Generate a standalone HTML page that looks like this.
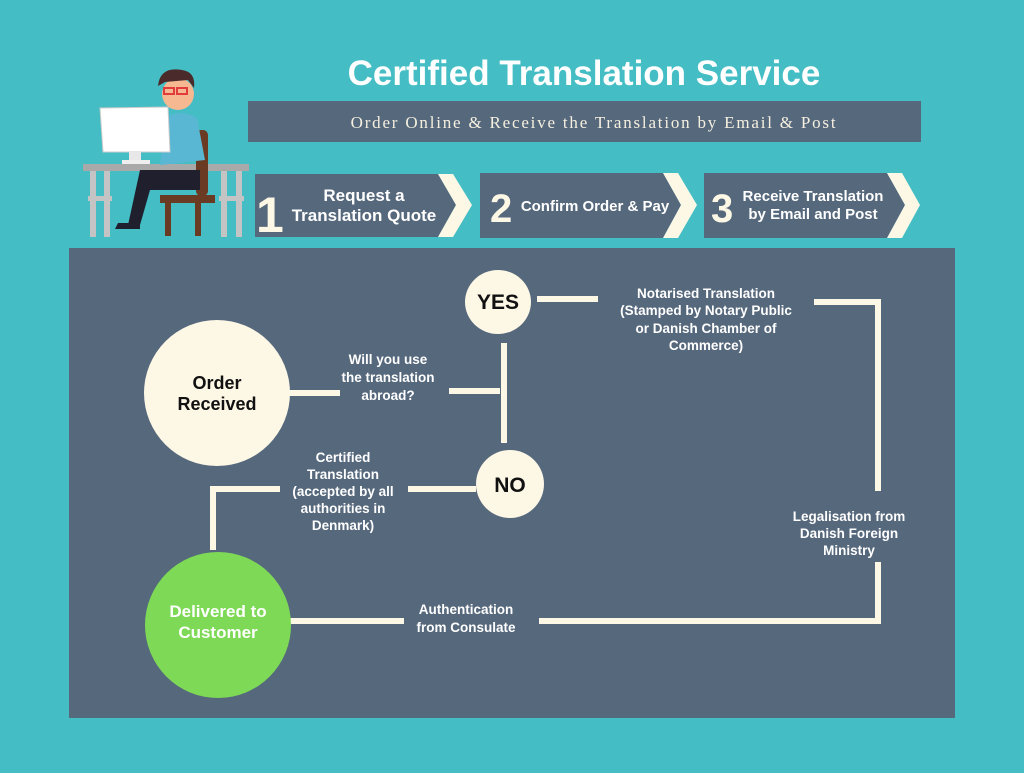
<!DOCTYPE html>
<html><head><meta charset="utf-8"><style>
html,body{margin:0;padding:0}
body{width:1024px;height:768px;background:#44bec4;overflow:hidden;font-family:"Liberation Sans",sans-serif}
svg text{font-family:"Liberation Sans",sans-serif;font-weight:bold}
</style></head><body>
<svg width="1024" height="768" viewBox="0 0 1024 768">
<rect width="1024" height="768" fill="#44bec4"/>
<g>
<rect x="83" y="164" width="166" height="7" fill="#a9a9a9"/>
<rect x="90" y="171" width="6" height="66" fill="#c4c4c4"/>
<rect x="104" y="171" width="6" height="66" fill="#c4c4c4"/>
<rect x="88" y="196" width="24" height="5" fill="#c4c4c4"/>
<rect x="221" y="171" width="6" height="66" fill="#c4c4c4"/>
<rect x="236" y="171" width="6" height="66" fill="#c4c4c4"/>
<rect x="219" y="196" width="25" height="5" fill="#c4c4c4"/>
<rect x="160" y="195" width="55" height="8" fill="#6b3a22"/>
<rect x="165" y="203" width="6" height="33" fill="#6b3a22"/>
<rect x="195" y="203" width="6" height="33" fill="#6b3a22"/>
<rect x="196" y="130" width="12" height="66" rx="5" fill="#6b3a22"/>
<path d="M165 118 Q180 108 197 118 L205 160 L160 165 Z" fill="#5ab7d4"/>
<path d="M140 170 L200 170 L200 190 L150 190 L140 225 L128 225 Z" fill="#1f1f2e"/>
<path d="M118 223 L140 223 L140 229 L115 229 Z" fill="#1f1f2e"/>
<circle cx="178" cy="94" r="16" fill="#f5b891"/>
<path d="M158 86 Q160 66 182 70 Q196 72 194 88 L188 80 L165 82 Z" fill="#4a2a2a"/>
<rect x="164" y="88" width="10" height="6" fill="none" stroke="#e23b3b" stroke-width="2"/>
<rect x="177" y="88" width="10" height="6" fill="none" stroke="#e23b3b" stroke-width="2"/>
<path d="M100 108 L168 107 L170 152 L103 152 Z" fill="#fff" stroke="#ccc"/>
<rect x="129" y="152" width="12" height="10" fill="#e8e8e8"/>
<rect x="122" y="160" width="28" height="4" fill="#eee"/>
</g>
<text x="584" y="85" text-anchor="middle" font-size="35" fill="#fff">Certified Translation Service</text>
<rect x="248" y="101" width="673" height="41" fill="#56687c"/>
<text x="594" y="128" text-anchor="middle" font-size="17" fill="#f5f0e0" style="font-family:'Liberation Serif',serif;font-weight:normal;letter-spacing:1.8px">Order Online &amp; Receive the Translation by Email &amp; Post</text>
<g fill="#56687c">
<polygon points="255,174 438,174 456,205 438,237 255,237"/>
<polygon points="480,173 663,173 681,205 663,238 480,238"/>
<polygon points="704,173 887,173 905,205 887,238 704,238"/>
</g>
<g fill="#fdf7e6">
<polygon points="438,174 453,174 472,205 453,237 438,237 456,205"/>
<polygon points="663,173 678,173 697,205 678,238 663,238 681,205"/>
<polygon points="887,173 902,173 920,205 902,238 887,238 905,205"/>
</g>
<g fill="#fdf7e6" font-size="40" style="font-weight:normal">
<text x="256" y="232" font-size="50">1</text>
<text x="490" y="222">2</text>
<text x="711" y="222">3</text>
</g>
<g fill="#fff" font-size="17" text-anchor="middle">
<text x="364" y="201">Request a</text>
<text x="364" y="221">Translation Quote</text>
<text x="595" y="211" font-size="15">Confirm Order &amp; Pay</text>
<text x="813" y="201" font-size="15">Receive Translation</text>
<text x="813" y="219" font-size="15">by Email and Post</text>
</g>
<rect x="69" y="248" width="886" height="470" fill="#56687c"/>
<g stroke="#fdf7e6" stroke-width="6" fill="none">
<line x1="288" y1="393" x2="340" y2="393"/>
<line x1="449" y1="391" x2="500" y2="391"/>
<line x1="504" y1="343" x2="504" y2="443"/>
<line x1="537" y1="299" x2="598" y2="299"/>
<polyline points="814,302 878,302 878,491"/>
<polyline points="878,562 878,621 539,621"/>
<line x1="290" y1="621" x2="404" y2="621"/>
<line x1="408" y1="489" x2="476" y2="489"/>
<polyline points="280,489 213,489 213,550"/>
</g>
<ellipse cx="217" cy="393" rx="73" ry="73" fill="#fdf7e6"/>
<circle cx="218" cy="625" r="73" fill="#7ed957"/>
<ellipse cx="498" cy="302" rx="33" ry="32" fill="#fdf7e6"/>
<ellipse cx="510" cy="484" rx="34" ry="34" fill="#fdf7e6"/>
<g text-anchor="middle" font-size="18" fill="#111">
<text x="217" y="389">Order</text>
<text x="217" y="410">Received</text>
<text x="498" y="309" font-size="21">YES</text>
<text x="510" y="492" font-size="21">NO</text>
</g>
<g text-anchor="middle" font-size="17" fill="#fff">
<text x="218" y="617">Delivered to</text>
<text x="218" y="638">Customer</text>
</g>
<g text-anchor="middle" font-size="13.5" fill="#fff">
<text x="388" y="364">Will you use</text>
<text x="388" y="382">the translation</text>
<text x="388" y="400">abroad?</text>
<text x="706" y="298">Notarised Translation</text>
<text x="706" y="315">(Stamped by Notary Public</text>
<text x="706" y="333">or Danish Chamber of</text>
<text x="706" y="350">Commerce)</text>
<text x="849" y="521">Legalisation from</text>
<text x="849" y="538">Danish Foreign</text>
<text x="849" y="555">Ministry</text>
<text x="466" y="614">Authentication</text>
<text x="466" y="632">from Consulate</text>
<text x="343" y="462">Certified</text>
<text x="343" y="479">Translation</text>
<text x="343" y="496">(accepted by all</text>
<text x="343" y="513">authorities in</text>
<text x="343" y="530">Denmark)</text>
</g>
</svg>
</body></html>
